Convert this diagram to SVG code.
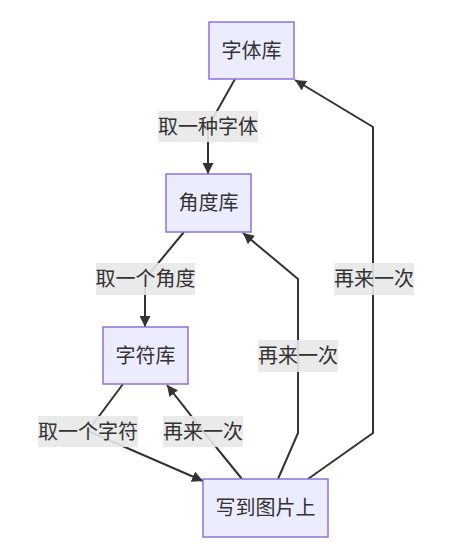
<svg xmlns="http://www.w3.org/2000/svg" width="453" height="553" viewBox="0 0 453 553">
<style>
.node rect{fill:#ECECFF;stroke:#9370DB;stroke-width:1.5}
text{font-family:"Liberation Sans","Noto Sans CJK SC",sans-serif;font-size:20px;fill:#333;text-anchor:middle;dominant-baseline:central}
.edge{fill:none;stroke:#333;stroke-width:2}
.lbl rect{fill:#e8e8e8;opacity:0.9}
</style>
<defs>
<marker id="arr" viewBox="0 0 10 10" refX="10" refY="5" markerWidth="11" markerHeight="11" markerUnits="userSpaceOnUse" orient="auto">
<path d="M0,0 L10,5 L0,10 z" fill="#333"/>
</marker>
</defs>
<rect width="453" height="553" fill="#fff"/>
<g id="connectors">
<path class="edge" d="M235,79 L208,127 L208,174" marker-end="url(#arr)"/>
<path class="edge" d="M184,232 L145,279 L145,327" marker-end="url(#arr)"/>
<path class="edge" d="M123,384 L88,431 L203,481" marker-end="url(#arr)"/>
<path class="edge" d="M242,479 L203,431 L167,385" marker-end="url(#arr)"/>
<path class="edge" d="M278,479 L298,433 L298,279 L243,233" marker-end="url(#arr)"/>
<path class="edge" d="M308,479 L373,433 L373,127 L295,80" marker-end="url(#arr)"/>
<g class="lbl" id="l1"><rect x="158" y="111" width="100" height="31"/><text x="208" y="126.5">取一种字体</text></g>
<g class="lbl" id="l2"><rect x="96" y="263" width="99" height="32"/><text x="145.5" y="279">取一个角度</text></g>
<g class="lbl" id="l3"><rect x="334" y="263" width="80" height="32"/><text x="374" y="279">再来一次</text></g>
<g class="lbl" id="l4"><rect x="258" y="340" width="80" height="32"/><text x="298" y="356">再来一次</text></g>
<g class="lbl" id="l5"><rect x="38" y="416" width="100" height="31"/><text x="88" y="431.5">取一个字符</text></g>
<g class="lbl" id="l6"><rect x="163" y="416" width="80" height="31"/><text x="203" y="431.5">再来一次</text></g>
</g>
<g id="n1" class="node"><rect x="209" y="22" width="85" height="57"/><text x="251.5" y="50.5">字体库</text></g>
<g id="n2" class="node"><rect x="166" y="174" width="85" height="58"/><text x="208.5" y="203">角度库</text></g>
<g id="n3" class="node"><rect x="103" y="327" width="85" height="57"/><text x="145.5" y="355.5">字符库</text></g>
<g id="n4" class="node"><rect x="203" y="479" width="125" height="58"/><text x="265.5" y="508">写到图片上</text></g>
</svg>
